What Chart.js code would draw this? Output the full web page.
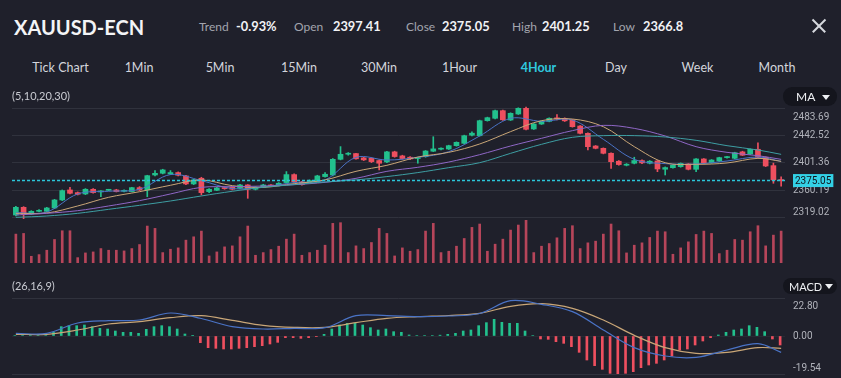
<!DOCTYPE html>
<html>
<head>
<meta charset="utf-8">
<title>XAUUSD-ECN 4Hour</title>
<script src="https://cdn.jsdelivr.net/npm/chart.js@4.4.1/dist/chart.umd.min.js"></script>
<style>
  html, body { margin: 0; padding: 0; }
  body { width: 841px; height: 378px; overflow: hidden; position: relative; background: #1f202b; font-family: Lato, "Noto Sans", sans-serif; }
  .t { position: absolute; white-space: nowrap; line-height: 1; z-index: 4; }
  #title { left: 14px; top: 17px; font-size: 20px; font-weight: 700; color: #f3f4f6; }
  .lbl { top: 20.5px; font-size: 12px; color: #a3a5ae; }
  .val { top: 20px; font-size: 12.8px; font-weight: 700; color: #f1f2f5; }
  .tab { top: 61.5px; font-size: 12.5px; color: #d3d5dc; transform: translateX(-50%); }
  .tab.on { color: #2fc8df; font-weight: 700; }
  .param { left: 12px; font-size: 11px; color: #c9cbd2; }
  .pill { position: absolute; background: #14151d; border-radius: 9px; z-index: 5; }
  .pill span { position: absolute; line-height: 1; font-size: 12px; color: #eef0f3; }
  .pill i { position: absolute; width: 0; height: 0; border-left: 4px solid transparent; border-right: 4px solid transparent; border-top: 5px solid #eef0f3; }
  #close { position: absolute; left: 810px; top: 17px; width: 18px; height: 18px; }
  #close:before, #close:after { content: ""; position: absolute; left: 0; top: 8px; width: 18px; height: 1.6px; background: #d6d8de; }
  #close:before { transform: rotate(45deg); }
  #close:after { transform: rotate(-45deg); }
  canvas { position: absolute; left: 0; }
</style>
</head>
<body>
<div class="t" id="title">XAUUSD-ECN</div>
<span class="t lbl" style="left:199px">Trend</span><span class="t val" style="left:236px">-0.93%</span>
<span class="t lbl" style="left:294px">Open</span><span class="t val" style="left:333px">2397.41</span>
<span class="t lbl" style="left:406px">Close</span><span class="t val" style="left:442px">2375.05</span>
<span class="t lbl" style="left:512px">High</span><span class="t val" style="left:542px">2401.25</span>
<span class="t lbl" style="left:613px">Low</span><span class="t val" style="left:643px">2366.8</span>
<div id="close"></div>

<span class="t tab" style="left:60.5px">Tick Chart</span>
<span class="t tab" style="left:139px">1Min</span>
<span class="t tab" style="left:220px">5Min</span>
<span class="t tab" style="left:299px">15Min</span>
<span class="t tab" style="left:379px">30Min</span>
<span class="t tab" style="left:459.5px">1Hour</span>
<span class="t tab on" style="left:538.5px">4Hour</span>
<span class="t tab" style="left:616px">Day</span>
<span class="t tab" style="left:697.5px">Week</span>
<span class="t tab" style="left:777px">Month</span>

<span class="t param" style="top:89.5px">(5,10,20,30)</span>
<span class="t param" style="top:279.5px">(26,16,9)</span>
<div class="pill" style="left:783px;top:87px;width:54px;height:19px"><span style="left:13px;top:4px">MA</span><i style="left:39px;top:8px"></i></div>
<div class="pill" style="left:783px;top:278px;width:54px;height:16px"><span style="left:6px;top:2.5px;font-size:11px">MACD</span><i style="left:42px;top:6px"></i></div>

<canvas id="priceChart" width="841" height="154" style="top:84px"></canvas>
<canvas id="volChart" width="841" height="75" style="top:204px"></canvas>
<canvas id="macdChart" width="841" height="108" style="top:282px"></canvas>

<script>
// 4 hour candles, oldest first
const categories = Array.from({ length: 100 }, (_, i) => String(i + 1));

const opens = [
  2323.5, 2335, 2325, 2329, 2329, 2334, 2346, 2361, 2357, 2355,
  2362, 2358, 2360.5, 2361, 2359, 2358.5, 2364.5, 2361, 2383.4, 2386,
  2385, 2387, 2382, 2370, 2378.5, 2358.5, 2360.5, 2364.5, 2365, 2363.5,
  2368.5, 2362, 2365, 2368, 2368, 2372, 2384, 2373, 2372, 2374.5,
  2381, 2383.4, 2406.9, 2414.5, 2415.5, 2409, 2408.4, 2405, 2403, 2418,
  2412, 2410, 2408, 2410.9, 2419, 2422, 2422.3, 2427.3, 2430.8, 2443,
  2442.2, 2464.7, 2468.3, 2479.7, 2465.7, 2474.7, 2483.2, 2452.3, 2459.7, 2463.7,
  2468, 2468, 2465.7, 2456.7, 2445.8, 2426.8, 2423.3, 2415.9, 2404, 2398,
  2401, 2405, 2401, 2404.4, 2392, 2394.3, 2395.9, 2399.9, 2391.9, 2407.4,
  2401.8, 2404.4, 2409.4, 2408.4, 2418, 2414.8, 2421.9, 2409.9, 2397.41, 2376
];
const closes = [
  2335, 2324, 2329, 2330, 2334, 2346, 2360, 2356, 2354.5, 2362,
  2357, 2358.5, 2361, 2358.5, 2360, 2364.5, 2361, 2382.4, 2385.9, 2391,
  2387, 2383, 2370, 2376, 2357, 2362, 2364, 2363, 2362, 2368.5,
  2362, 2365, 2368.5, 2367, 2371, 2384, 2373, 2369, 2375, 2382,
  2384.5, 2406.9, 2414.4, 2415.5, 2407.6, 2406, 2403.4, 2401, 2418, 2411,
  2408, 2407.5, 2409, 2419.3, 2422.5, 2423, 2427.3, 2432.3, 2442.2, 2446,
  2464.7, 2469.2, 2479.7, 2466, 2475.7, 2483.2, 2451.8, 2459.7, 2463.7, 2468.3,
  2467.5, 2464.5, 2455.7, 2445.8, 2425.8, 2423.3, 2415.9, 2403.3, 2399, 2399.5,
  2405, 2401.5, 2404, 2392.4, 2394.5, 2397.9, 2400.9, 2391.9, 2407.4, 2401.8,
  2405.8, 2409.4, 2410.5, 2416.8, 2413, 2421.9, 2409.9, 2396.9, 2376, 2375.05
];
const highs = [
  2336.5, 2336, 2330, 2331.5, 2335, 2347, 2361, 2365, 2358, 2363,
  2363, 2360, 2362, 2362, 2361, 2365, 2366, 2383, 2390, 2392,
  2390, 2388, 2383, 2377, 2380, 2363, 2365, 2366, 2366, 2369.5,
  2369, 2366, 2369.5, 2369, 2372, 2388.5, 2385, 2374, 2376, 2383,
  2387, 2408, 2425.9, 2417, 2416, 2410, 2409, 2406, 2419, 2419,
  2413, 2411, 2410, 2420, 2440.7, 2424, 2428, 2433, 2443, 2448,
  2465.5, 2470, 2480.5, 2480.5, 2476.5, 2484, 2485, 2460.5, 2464.5, 2469,
  2474, 2469, 2466.5, 2457.5, 2446.5, 2427.5, 2424, 2416.5, 2405, 2400.5,
  2410, 2406, 2405, 2405, 2395.5, 2398.5, 2401.5, 2400.5, 2408, 2408,
  2406.5, 2410, 2411.5, 2417.5, 2419, 2422.5, 2431.7, 2410.5, 2401.25, 2380.5
];
const lows = [
  2322, 2318, 2324, 2328, 2328, 2333, 2345, 2355, 2353.5, 2354,
  2356, 2351, 2360, 2358, 2358, 2358, 2360, 2351, 2382, 2385,
  2384, 2382, 2369, 2369, 2353.5, 2357, 2360, 2362, 2361, 2363,
  2348.5, 2361, 2364.5, 2366, 2367, 2371, 2372, 2368, 2371, 2374,
  2380, 2382, 2406, 2413, 2407, 2405, 2402, 2391, 2402, 2410,
  2407, 2406.5, 2401, 2410, 2418.5, 2421, 2421.5, 2426.5, 2430, 2442,
  2441.5, 2464, 2467.5, 2465, 2465, 2474, 2451, 2451.5, 2459, 2463,
  2466, 2463.5, 2455, 2445, 2420.8, 2422.5, 2415, 2393.4, 2398, 2397,
  2400, 2400.5, 2400, 2388.4, 2383.4, 2393.5, 2395, 2391, 2388.4, 2401,
  2401, 2403.5, 2408.5, 2407.5, 2412.5, 2414, 2409, 2396, 2371, 2366.8
];
const volumes = [
  86, 88, 20, 25, 38, 70, 96, 96, 16, 30,
  33, 43, 38, 38, 36, 43, 55, 110, 103, 31,
  41, 45, 68, 78, 95, 21, 33, 48, 51, 78,
  110, 23, 31, 40, 50, 71, 86, 23, 31, 38,
  53, 118, 120, 31, 51, 43, 61, 103, 88, 21,
  45, 35, 40, 95, 118, 31, 35, 50, 73, 106,
  116, 35, 56, 71, 98, 113, 128, 31, 50, 58,
  75, 103, 111, 43, 60, 65, 86, 116, 96, 30,
  53, 60, 76, 95, 93, 26, 45, 63, 85, 95,
  88, 28, 38, 70, 68, 93, 111, 51, 83, 95
];

// moving averages and MACD lines, read at every 4th candle
const lineIdx = [1, 5, 9, 13, 17, 21, 25, 29, 33, 37, 41, 45, 49, 53, 57, 61, 65, 69, 73, 77, 81, 85, 89, 93, 97, 100];
const ma5 = [2327, 2328, 2355, 2359, 2362, 2384, 2375, 2363, 2365.5, 2372, 2376, 2409.8, 2405.8, 2409.8, 2418.3, 2441.8, 2468.2, 2463.7, 2465.7, 2436.8, 2406.8, 2400.4, 2399.9, 2404.3, 2410.3, 2403.8];
const ma10 = [2326, 2326.5, 2337, 2350, 2358.4, 2368, 2376, 2367.4, 2364.9, 2370.4, 2376, 2388.9, 2397.9, 2410.3, 2417.3, 2429.8, 2448.3, 2464.7, 2467.2, 2455.7, 2425.8, 2401.8, 2399.4, 2401.4, 2408.3, 2403.8];
const ma20 = [2323.5, 2326, 2330, 2337, 2345, 2355, 2364.9, 2365.9, 2366.9, 2368.9, 2372.4, 2378.4, 2388.9, 2394.9, 2402.8, 2413.8, 2426.8, 2438.3, 2449.8, 2457.7, 2453.2, 2441.8, 2425.8, 2417.3, 2412.3, 2406.8];
const ma30 = [2320, 2322, 2326, 2332, 2338, 2344.5, 2352, 2359, 2365, 2369, 2373, 2376, 2381, 2387, 2394.4, 2401.8, 2415.8, 2429.3, 2439.8, 2442.3, 2442.3, 2440.3, 2435.3, 2427.3, 2420.8, 2414.3];
const dif = [1.6, 1.6, 7.8, 9.2, 9.6, 13.8, 10.5, 5.6, 4.2, 4.6, 5.0, 12.2, 12.2, 11.6, 12.0, 13.5, 21.2, 19.0, 14.6, 3.6, -7.0, -12.0, -12.8, -8.4, -4.6, -9.8];
const dea = [1.0, 1.0, 3.6, 7.2, 8.6, 11.0, 12.2, 9.4, 6.4, 5.2, 5.2, 8.0, 10.6, 11.6, 12.3, 13.6, 17.8, 19.4, 16.6, 9.6, 0.4, -7.0, -10.4, -9.8, -7.0, -7.4];
const macdHist = [
  0.3, 0.3, 0.3, 0.3, 0.3, 2.2, 5.6, 6.2, 6.2, 6.6,
  5.6, 4.6, 4.2, 3.0, 2.2, 2.2, 1.6, 4.0, 5.6, 6.2,
  5.6, 4.2, 1.2, 0.2, -4.0, -7.0, -7.4, -7.8, -7.8, -7.4,
  -7.0, -6.4, -5.8, -4.8, -3.8, -1.0, -1.0, -1.4, -1.0, -0.2,
  1.0, 4.2, 6.6, 7.6, 7.6, 6.6, 5.0, 3.6, 4.2, 2.6,
  2.2, 0.6, 0.3, 0.3, 0.3, 0.5, 1.0, 1.6, 3.0, 3.6,
  6.2, 8.0, 10.0, 8.2, 7.6, 7.6, 3.0, 0.3, -1.8, -2.0,
  -3.4, -4.4, -6.4, -9.8, -14.4, -17.8, -20.0, -22.4, -23.0, -22.4,
  -21.4, -19.0, -17.4, -16.4, -14.4, -12.0, -8.4, -7.8, -5.4, -3.0,
  -1.0, 0.6, 2.2, 3.6, 4.2, 6.2, 5.2, 2.6, -1.8, -5.4
];

const priceTicks = [2483.69, 2442.52, 2401.36, 2360.19, 2319.02];
const macdTicks = [22.8, 0, -19.54, -22.8];
const lastPrice = 2375.05;

const GREEN = '#22c08d';
const RED = '#ee4f5f';
const GRID = '#30323d';
const TICK = '#b0b2ba';
const PAD = 16;
const AXIS_W = 56;

Chart.defaults.font.family = 'Roboto, "Noto Sans", sans-serif';
Chart.defaults.animation = false;
Chart.defaults.plugins.legend.display = false;
Chart.defaults.plugins.tooltip.enabled = false;

const candleColors = closes.map((c, i) => c >= opens[i] ? GREEN : RED);
const pts = arr => lineIdx.map((n, i) => ({ x: n, y: arr[i] }));

// nudge the edge labels inside the panel like the trading app does
const edgeLabels = {
  id: 'edgeLabels',
  beforeDraw(chart, args, opts) {
    const s = chart.scales.y;
    if (!s || !opts.shift) return;
    s.getLabelItems().forEach(item => {
      const dy = opts.shift[item.label];
      if (dy && !item.moved) {
        item.options.translation[1] += dy;
        item.moved = true;
      }
    });
  }
};

const priceTag = {
  id: 'priceTag',
  afterDatasetsDraw(chart) {
    const { ctx, chartArea, scales } = chart;
    const y = scales.y.getPixelForValue(lastPrice);
    ctx.save();
    ctx.strokeStyle = '#2cc5da';
    ctx.lineWidth = 1.5;
    ctx.setLineDash([3, 2]);
    ctx.beginPath();
    ctx.moveTo(chartArea.left, y);
    ctx.lineTo(chartArea.right, y);
    ctx.stroke();
    ctx.restore();
  },
  afterDraw(chart) {
    const { ctx, chartArea, scales } = chart;
    const y = scales.y.getPixelForValue(lastPrice);
    ctx.save();
    ctx.font = '10px Roboto, sans-serif';
    const w = ctx.measureText(lastPrice.toFixed(2)).width;
    ctx.fillStyle = '#33d1e6';
    ctx.fillRect(chartArea.right + 8, y - 6.5, w + 4, 13);
    ctx.fillStyle = '#11141b';
    ctx.textBaseline = 'middle';
    ctx.fillText(lastPrice.toFixed(2), chartArea.right + 10, y + 0.5);
    ctx.restore();
  }
};

const xScales = {
  x: { type: 'category', labels: categories, offset: true, display: false },
  xl: { type: 'linear', min: 0.5, max: 100.5, display: false }
};

function maLine(data, color) {
  return { type: 'line', data: pts(data), xAxisID: 'xl', borderColor: color, borderWidth: 1, pointRadius: 0, tension: 0.35, order: 0 };
}

new Chart(document.getElementById('priceChart'), {
  data: {
    labels: categories,
    datasets: [
      { type: 'bar', data: lows.map((l, i) => [l, highs[i]]), backgroundColor: candleColors, barThickness: 1, grouped: false, xAxisID: 'x', order: 3 },
      { type: 'bar', data: opens.map((o, i) => [o, closes[i]]), backgroundColor: candleColors, barThickness: 5, minBarLength: 1, grouped: false, xAxisID: 'x', order: 2 },
      maLine(ma30, '#3e9ea3'),
      maLine(ma20, '#8f67c6'),
      maLine(ma10, '#c9a677'),
      maLine(ma5, '#4a73c6')
    ]
  },
  options: {
    responsive: false,
    layout: { padding: { left: 12, right: 0, top: PAD, bottom: PAD } },
    plugins: { edgeLabels: { shift: { '2483.69': 9, '2319.02': -5 } } },
    scales: {
      ...xScales,
      y: {
        position: 'right',
        min: 2313.02,
        max: 2495.67,
        afterBuildTicks: s => { s.ticks = priceTicks.map(v => ({ value: v })); },
        afterFit: s => { s.width = AXIS_W; },
        grid: { color: GRID, drawTicks: false },
        border: { display: false },
        ticks: { autoSkip: false, padding: 8, color: TICK, font: { size: 10 }, callback: v => v.toFixed(2) }
      }
    }
  },
  plugins: [edgeLabels, priceTag]
});

new Chart(document.getElementById('volChart'), {
  type: 'bar',
  data: {
    labels: categories,
    datasets: [{ data: volumes, backgroundColor: '#b6455a', barThickness: 2, xAxisID: 'x' }]
  },
  options: {
    responsive: false,
    layout: { padding: { left: 12, right: AXIS_W, top: PAD, bottom: PAD } },
    scales: {
      ...xScales,
      y: { min: 0, max: 128, display: false }
    }
  }
});

new Chart(document.getElementById('macdChart'), {
  data: {
    labels: categories,
    datasets: [
      { type: 'bar', data: macdHist, backgroundColor: macdHist.map(v => v >= 0 ? GREEN : RED), barThickness: 2, xAxisID: 'x', order: 2 },
      { type: 'line', data: pts(dea), xAxisID: 'xl', borderColor: '#c9a677', borderWidth: 1.2, pointRadius: 0, tension: 0.35, order: 1 },
      { type: 'line', data: pts(dif), xAxisID: 'xl', borderColor: '#4a73c6', borderWidth: 1.2, pointRadius: 0, tension: 0.35, order: 0 }
    ]
  },
  options: {
    responsive: false,
    layout: { padding: { left: 12, right: 0, top: PAD, bottom: PAD } },
    plugins: { edgeLabels: { shift: { '22.80': 8.5 } } },
    scales: {
      ...xScales,
      y: {
        position: 'right',
        min: -22.8,
        max: 22.8,
        afterBuildTicks: s => { s.ticks = macdTicks.map(v => ({ value: v })); },
        afterFit: s => { s.width = AXIS_W; },
        grid: {
          drawTicks: false,
          color: c => Math.abs(c.tick.value) === 22.8 ? GRID : (c.tick.value === 0 ? '#282a34' : 'transparent')
        },
        border: { display: false },
        ticks: { autoSkip: false, padding: 8, color: TICK, font: { size: 10 }, callback: v => v === -22.8 ? '' : v.toFixed(2) }
      }
    }
  },
  plugins: [edgeLabels]
});
</script>
</body>
</html>
